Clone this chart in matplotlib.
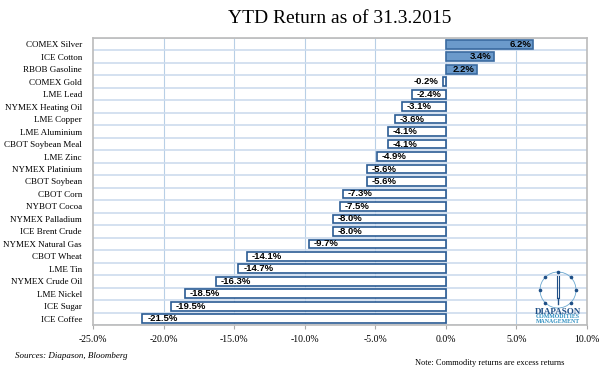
import numpy as np
from matplotlib import pyplot as plt
from matplotlib.patches import Circle

names = ['COMEX Silver', 'ICE Cotton', 'RBOB Gasoline', 'COMEX Gold', 'LME Lead',
         'NYMEX Heating Oil', 'LME Copper', 'LME Aluminium', 'CBOT Soybean Meal',
         'LME Zinc', 'NYMEX Platinium', 'CBOT Soybean', 'CBOT Corn', 'NYBOT Cocoa',
         'NYMEX Palladium', 'ICE Brent Crude', 'NYMEX Natural Gas', 'CBOT Wheat',
         'LME Tin', 'NYMEX Crude Oil', 'LME Nickel', 'ICE Sugar', 'ICE Coffee']
returns = [6.2, 3.4, 2.2, -0.2, -2.4, -3.1, -3.6, -4.1, -4.1, -4.9, -5.6, -5.6,
           -7.3, -7.5, -8.0, -8.0, -9.7, -14.1, -14.7, -16.3, -18.5, -19.5, -21.5]
xticks = [-25, -20, -15, -10, -5, 0, 5, 10]

serif = 'Liberation Serif'
W, H = 610, 372
fig = plt.figure(figsize=(6.1, 3.72), dpi=100)
ax = fig.add_axes([93 / W, 1 - 325 / H, 494 / W, 287 / H])

n = len(names)
y = np.arange(n)
edge = '#2a5b94'
lab = dict(va='center', fontsize=6.8, fontweight='bold', family='Liberation Sans', zorder=4)
for yi, v in zip(y, returns):
    if v > 0:
        ax.barh(yi, v, height=0.7, color='#6b9acb', edgecolor='#3a6aa0', linewidth=1.2, zorder=3)
        ax.text(v - 0.15, yi, f'{v:.1f}%', ha='right', **lab)
    else:
        ax.barh(yi, v, height=0.7, color='white', edgecolor=edge, linewidth=1.2, zorder=3)
        if v > -1:
            ax.text(v - 0.3, yi, f'{v:.1f}%', ha='right', **lab)
        else:
            ax.text(v + 0.35, yi, f'{v:.1f}%', ha='left', **lab)

ax.set_xlim(-25, 10)
ax.set_ylim(n - 0.5, -0.5)
ax.set_yticks(y)
ax.set_yticklabels(names, family=serif, fontsize=6.5)
ax.set_xticks(xticks)
ax.set_xticklabels([f'{t:.1f}%' for t in xticks], family=serif, fontsize=7)
ax.tick_params(axis='y', length=0, pad=8)
ax.tick_params(axis='x', length=3, color='#aaaaaa', pad=4)

for t in xticks[1:-1]:
    ax.axvline(t, color='#b8cfe6', lw=0.8, zorder=1)
for b in np.arange(n + 1) - 0.5:
    ax.axhline(b, color='#cddcee', lw=1.2, zorder=1)

for s in ax.spines.values():
    s.set_color('#bbbbbb')
    s.set_linewidth(1.2)

ax.set_title('YTD Return as of 31.3.2015', family=serif, fontsize=14, pad=11)

fig.text(15 / W, 1 - 358 / H, 'Sources: Diapason, Bloomberg', family=serif, style='italic', fontsize=6.5)
fig.text(415 / W, 1 - 365 / H, 'Note: Commodity returns are excess returns', family=serif, fontsize=6)

# logo, drawn in pixel units
logo = fig.add_axes([527 / W, 1 - 327 / H, 62 / W, 62 / H])
logo.set_xlim(527, 589)
logo.set_ylim(327, 265)
logo.axis('off')
cx, cy, r = 558, 290, 18
logo.add_patch(Circle((cx, cy), r, fill=False, color='#6aa7cf', lw=0.6))
for a in np.radians([90, 45, 0, -45, -135, 180, 135]):
    logo.plot(cx + r * np.cos(a), cy - r * np.sin(a), 'o', color='#1f4f86', ms=1.6)
logo.plot([cx - 1.2, cx - 1.2], [276, 298], color='#1f4f86', lw=0.8)
logo.plot([cx + 1.2, cx + 1.2], [276, 298], color='#1f4f86', lw=0.8)
logo.plot([cx, cx], [298, 304], color='#1f4f86', lw=1.0)
logo.text(cx, 312, 'DIAPASON', ha='center', va='center', fontsize=6.5, fontweight='bold',
          family=serif, color='#1f4f86')
logo.text(cx, 317, 'COMMODITIES', ha='center', va='center', fontsize=4.2, fontweight='bold',
          family=serif, color='#2f8fc0')
logo.text(cx, 321.5, 'MANAGEMENT', ha='center', va='center', fontsize=4.2, fontweight='bold',
          family=serif, color='#2f8fc0')

fig.savefig('out.png', dpi=100)
